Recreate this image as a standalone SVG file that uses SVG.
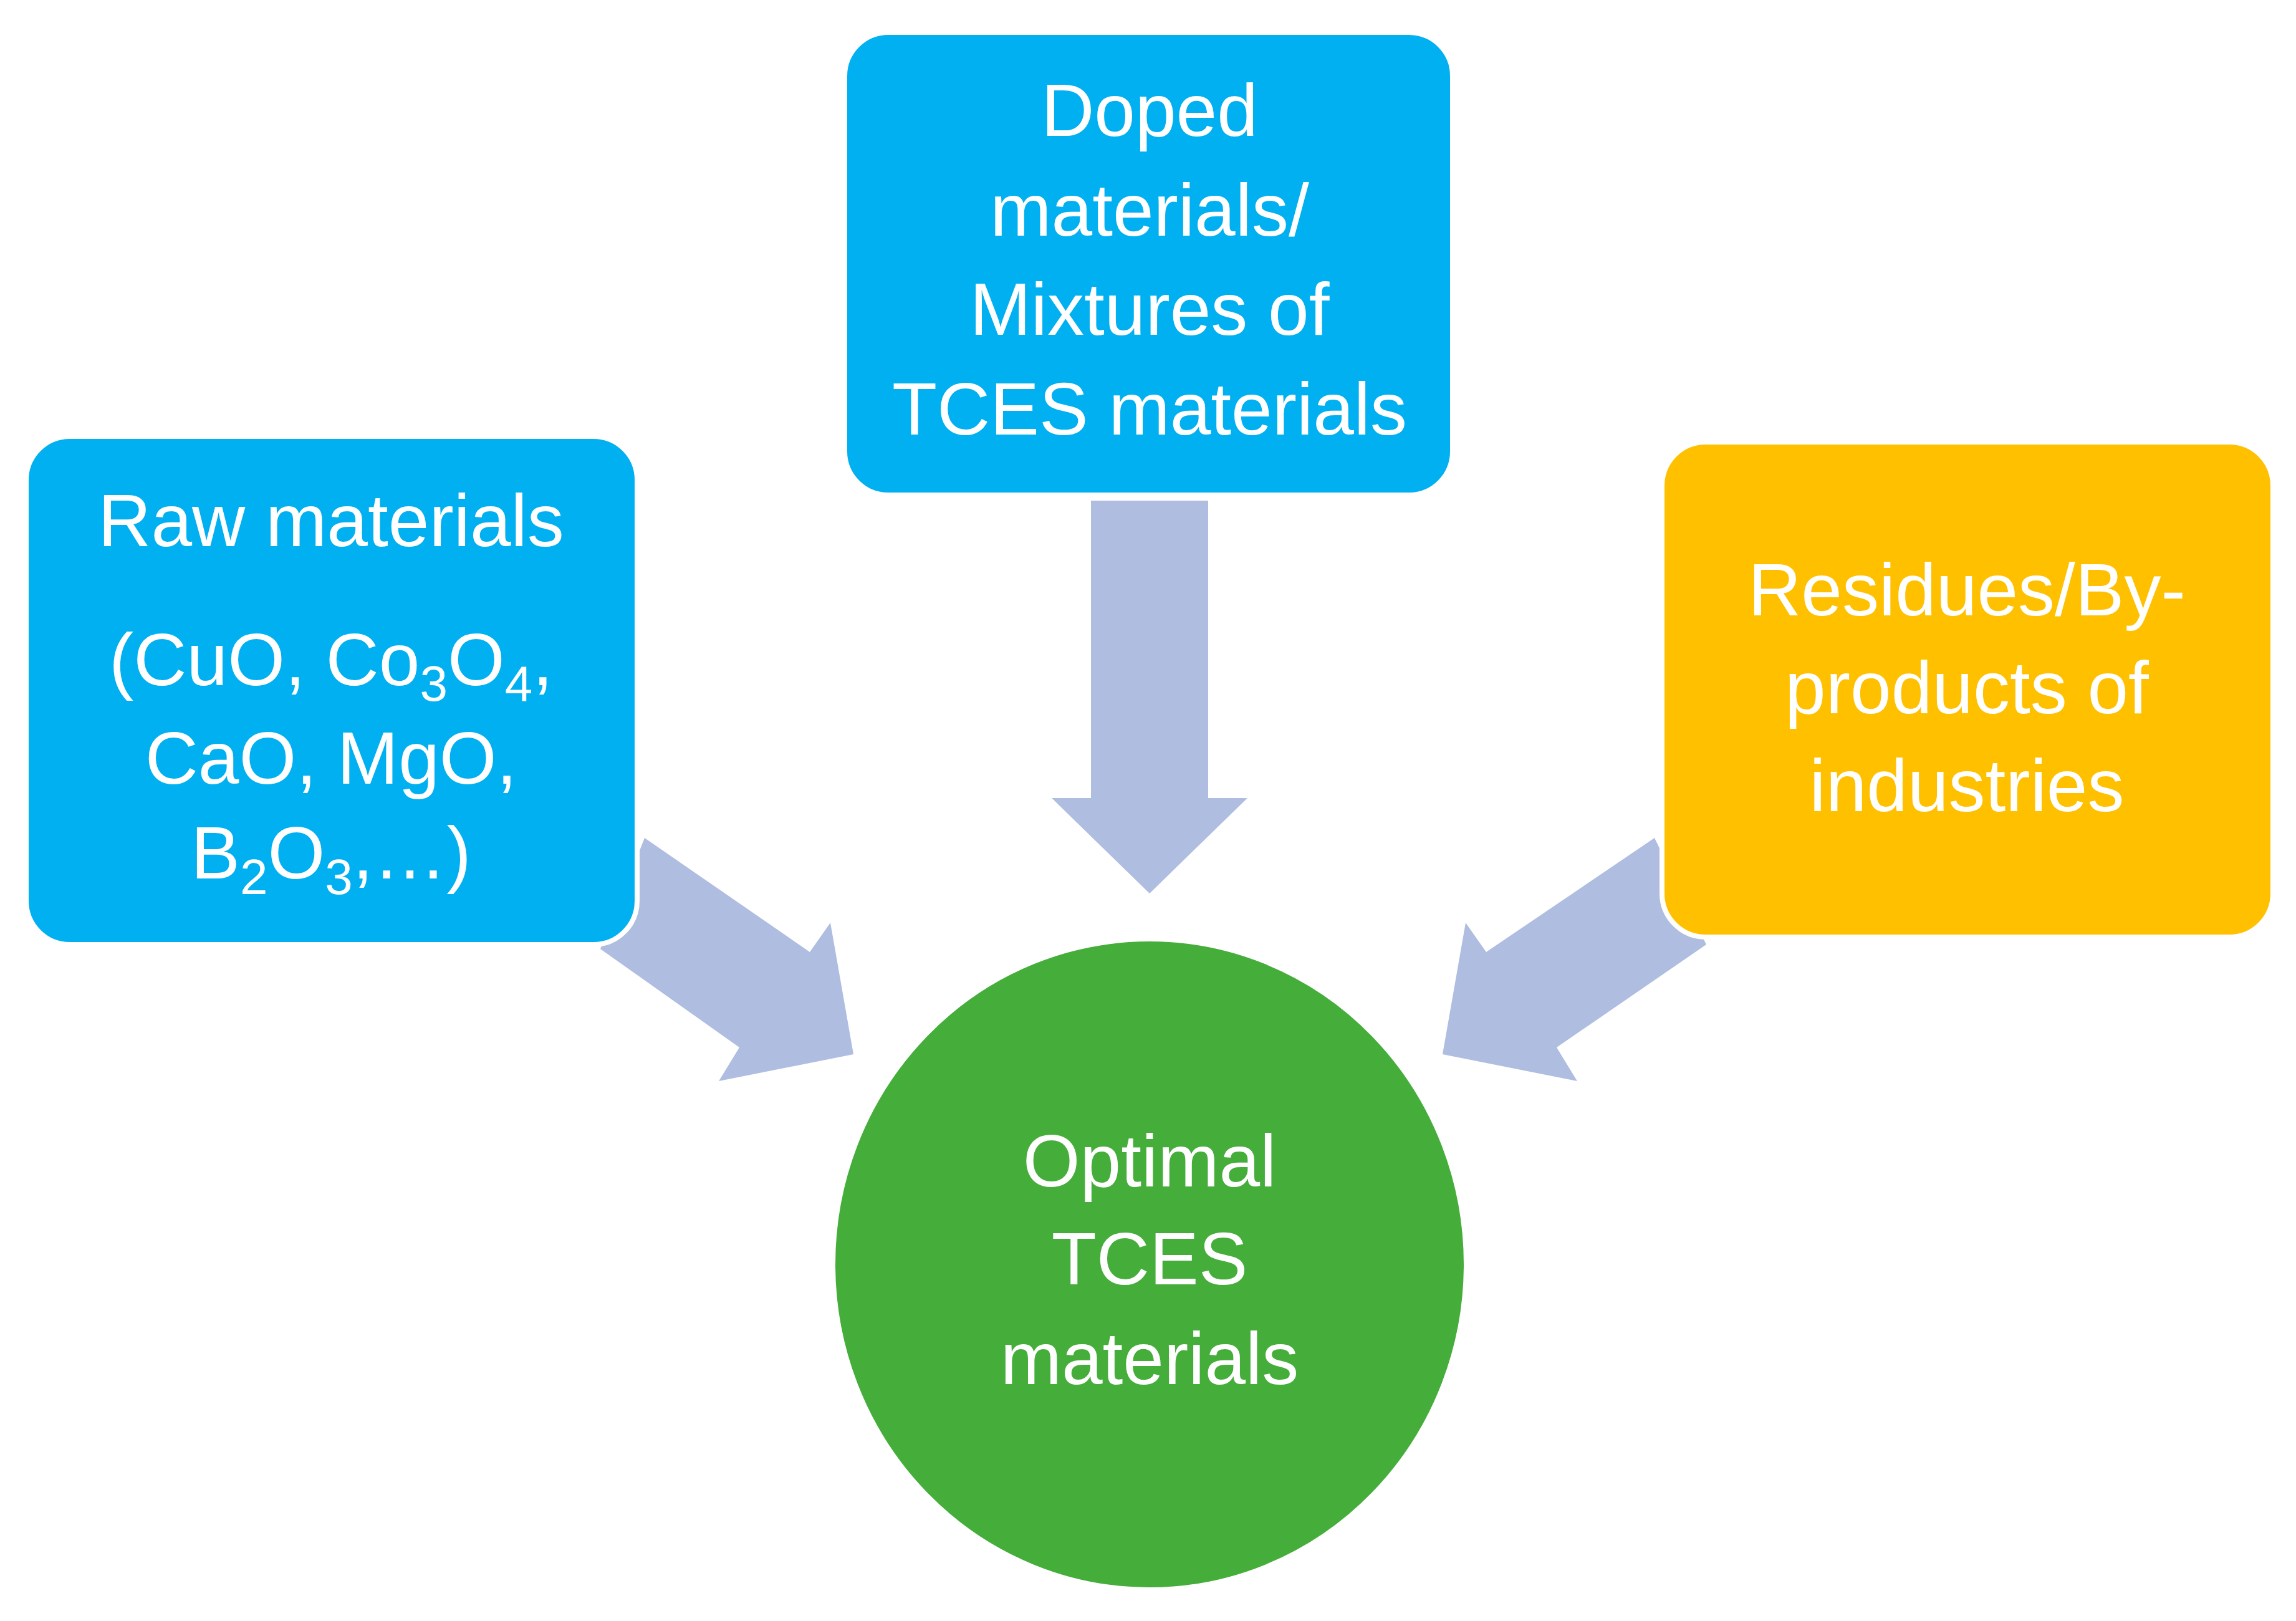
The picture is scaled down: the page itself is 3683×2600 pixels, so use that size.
<svg xmlns="http://www.w3.org/2000/svg" width="3683" height="2600" viewBox="0 0 3683 2600">
<style>
.box{stroke:#fff;stroke-width:8}
.t{font-family:"Liberation Sans",Arial,sans-serif;font-size:118px;fill:#fff;text-anchor:middle}
.s{font-size:80px}
.arr{fill:#AEBDE0}
</style>
<rect width="3683" height="2600" fill="#fff"/>
<g id="connectors">
<polygon class="arr" points="1750,803 1938,803 1938,1280 2001,1280 1844,1433 1687,1280 1750,1280"/>
<polygon class="arr" points="1034,1344 1299,1527 1332,1480 1369,1691 1153,1734 1186,1680 963,1522"/>
<polygon class="arr" points="2654,1344 2384,1527 2351,1480 2314,1691 2530,1734 2497,1680 2737,1515"/>
</g>
<g id="raw">
<rect class="box" x="42" y="700" width="980" height="815" rx="70" fill="#00B0F0"/>
<text class="t" x="531" y="876">Raw materials</text>
<text class="t" x="531" y="1099">(CuO, Co<tspan class="s" dy="25">3</tspan><tspan dy="-25">O</tspan><tspan class="s" dy="25">4</tspan><tspan dy="-25">,</tspan></text>
<text class="t" x="531" y="1257">CaO, MgO,</text>
<text class="t" x="531" y="1409">B<tspan class="s" dy="25">2</tspan><tspan dy="-25">O</tspan><tspan class="s" dy="25">3</tspan><tspan dy="-25">,…)</tspan></text>
</g>
<g id="doped">
<rect class="box" x="1355" y="52" width="975" height="742" rx="70" fill="#00B0F0"/>
<text class="t" x="1844" y="218">Doped</text>
<text class="t" x="1844" y="378">materials/</text>
<text class="t" x="1844" y="537">Mixtures of</text>
<text class="t" x="1844" y="697">TCES materials</text>
</g>
<g id="residues">
<rect class="box" x="2666" y="709" width="980" height="794" rx="70" fill="#FFC000"/>
<text class="t" x="3155" y="987">Residues/By-</text>
<text class="t" x="3155" y="1144">products of</text>
<text class="t" x="3155" y="1301">industries</text>
</g>
<g id="optimal">
<ellipse cx="1844" cy="2028" rx="508" ry="522" fill="#45AD3A" stroke="#fff" stroke-width="8"/>
<text class="t" x="1844" y="1903">Optimal</text>
<text class="t" x="1844" y="2060">TCES</text>
<text class="t" x="1844" y="2220">materials</text>
</g>
</svg>
